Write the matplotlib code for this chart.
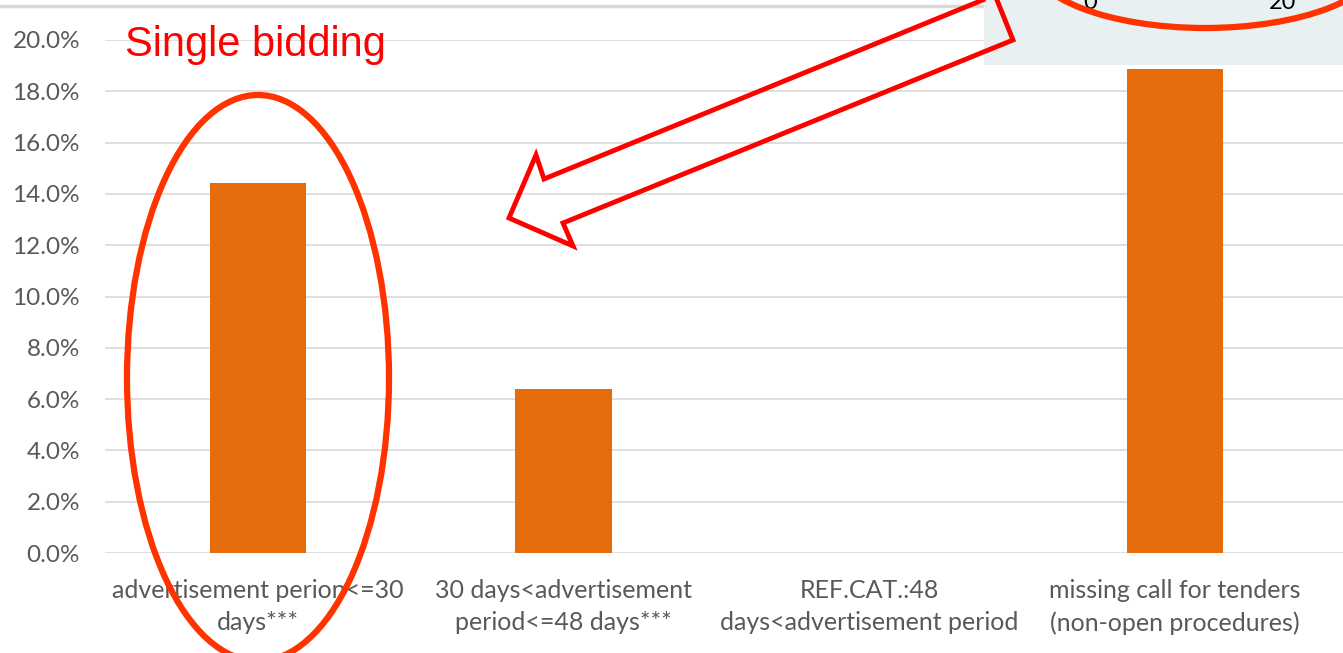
import matplotlib
matplotlib.use("Agg")
import matplotlib.pyplot as plt
from matplotlib.patches import Ellipse, Polygon, Rectangle
from matplotlib.ticker import FuncFormatter

categories = ["advertisement perion<=30\ndays***",
              "30 days<advertisement\nperiod<=48 days***",
              "REF.CAT.:48\ndays<advertisement period",
              "missing call for tenders\n(non-open procedures)"]
values = [0.1442, 0.0640, 0.0, 0.1887]
yticks = [0.0, 0.02, 0.04, 0.06, 0.08, 0.10, 0.12, 0.14, 0.16, 0.18, 0.20]

W, H = 1343, 653
fig = plt.figure(figsize=(W / 100, H / 100), dpi=100)
fig.patch.set_facecolor("white")

def px(x, y):
    return (x / W, 1 - y / H)

ax = fig.add_axes([105 / W, 1 - 553 / H, 1 - 105 / W, (553 - 40) / H])
x = list(range(len(categories)))
ax.bar(x, values, width=0.315, color="#E46C0A", zorder=3)
ax.set_xlim(-0.5, 3.55)
ax.set_ylim(0, 0.20)
ax.set_yticks(yticks)
ax.yaxis.set_major_formatter(FuncFormatter(lambda v, p: f"{v*100:.1f}%"))
ax.set_xticks(x)
ax.set_xticklabels(categories)
for s in ax.spines.values():
    s.set_visible(False)
ax.grid(axis="y", color="#D9D9D9", linewidth=1.2, zorder=0)
ax.tick_params(axis="both", length=0, colors="#595959")
ax.tick_params(axis="y", pad=18, labelsize=17.5)
ax.tick_params(axis="x", pad=19, labelsize=18)
for lab in ax.get_xticklabels() + ax.get_yticklabels():
    lab.set_fontfamily("Lato")
    lab.set_color("#595959")
for lab in ax.get_xticklabels():
    lab.set_linespacing(1.45)

# top gray line
fig.add_artist(plt.Line2D([0, 984 / W], [1 - 6 / H, 1 - 6 / H], transform=fig.transFigure,
                          color="#D9D9D9", linewidth=2.5))

# inset panel top-right
fig.add_artist(Rectangle(px(984, 65), (W - 984) / W, 65 / H, transform=fig.transFigure,
                         facecolor="#E9F0F2", edgecolor="none", zorder=5))
fig.text(1090 / W, 1 - 9 / H, "0", fontsize=17, color="black", ha="center", va="baseline",
         family="Lato", zorder=6)
fig.text(1283 / W, 1 - 9 / H, "20", fontsize=17, color="black", ha="center", va="baseline",
         family="Lato", zorder=6)
fig.add_artist(Ellipse(px(1205, -40), 350 / W, 136 / H, transform=fig.transFigure,
                       fill=False, edgecolor="#FF3300", linewidth=4.5, zorder=7))

# ellipse around first bar
fig.add_artist(Ellipse(px(258, 378), 262 / W, 566 / H, transform=fig.transFigure,
                       fill=False, edgecolor="#FF3300", linewidth=4.5, zorder=8))

# block arrow
arrow_pts = [(995, -5), (544, 179), (536, 155), (509, 218), (573, 246), (563, 223), (1013, 40)]
fig.add_artist(Polygon([px(a, b) for a, b in arrow_pts], closed=True, transform=fig.transFigure,
                       fill=False, edgecolor="#FF0000", linewidth=3.5, joinstyle="miter", zorder=9))

fig.text(125 / W, 1 - 45 / H, "Single bidding", fontsize=30, color="#FF0000",
         family="Liberation Sans", ha="left", va="center", zorder=10)

fig.savefig("out.png", dpi=100, facecolor="white")
